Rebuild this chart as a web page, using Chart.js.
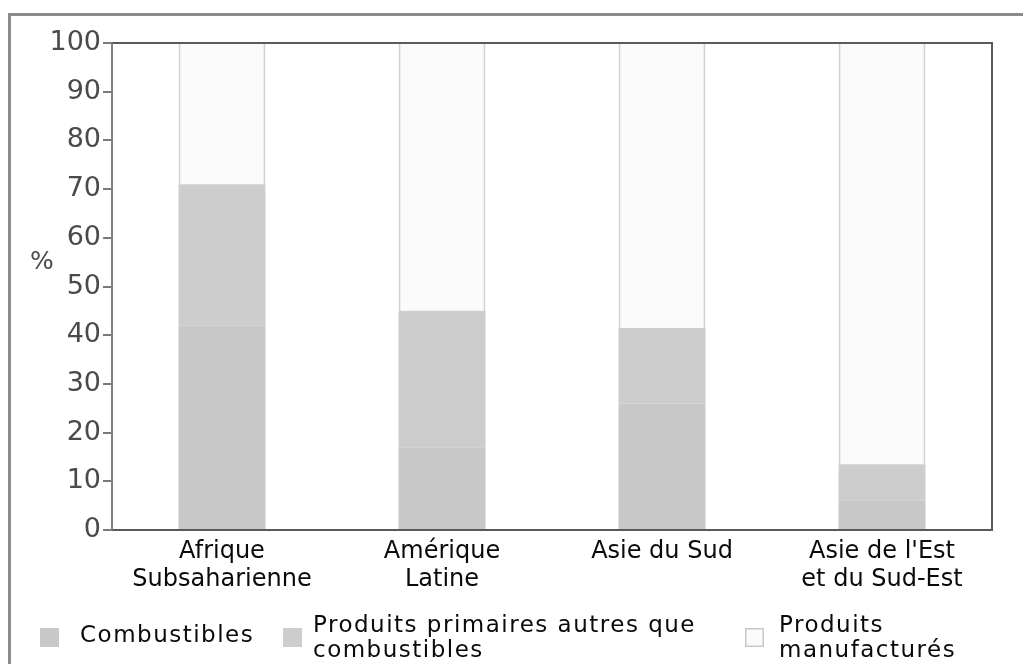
<!DOCTYPE html>
<html>
<head>
  <meta charset="utf-8">
  <title>Exportations par type de produit</title>
  <script src="https://cdn.jsdelivr.net/npm/chart.js@4.4.0/dist/chart.umd.min.js"></script>
  <style>
    html, body { margin: 0; padding: 0; background: #ffffff; }
    #wrap { position: relative; width: 1023px; height: 664px; }
  </style>
</head>
<body>
  <div id="wrap"><canvas id="myChart"></canvas></div>

  <script>
    // categories (multi-line labels) and values in %
    const categories = [['Afrique', 'Subsaharienne'], ['Amérique', 'Latine'], ['Asie du Sud'], ["Asie de l'Est", 'et du Sud-Est']];
    const combustibles = [42, 17, 26, 6];
    const primaires = [29, 28, 15.5, 7.5];
    const manufactures = [29, 55, 58.5, 86.5];
    const yTicks = [0, 10, 20, 30, 40, 50, 60, 70, 80, 90, 100];

    const seriesNames = ['Combustibles', 'Produits primaires autres que combustibles', 'Produits manufacturés'];
    const legendLines = [['Combustibles'], ['Produits primaires autres que', 'combustibles'], ['Produits', 'manufacturés']];

    const font = 'DejaVu Sans';

    // frame, "%" title and a legend with wrapped text
    const decor = {
      id: 'decor',
      afterDatasetsDraw(chart) {
        const ctx = chart.ctx;
        const a = chart.chartArea;
        ctx.save();
        // outer frame of the figure
        ctx.strokeStyle = '#8c8c8c';
        ctx.lineWidth = 3;
        ctx.beginPath();
        ctx.moveTo(9.5, 670);
        ctx.lineTo(9.5, 14.5);
        ctx.lineTo(1030, 14.5);
        ctx.stroke();
        // plot box
        ctx.lineWidth = 2;
        ctx.strokeStyle = '#5a5a5a';
        ctx.beginPath();
        ctx.moveTo(a.left, a.top);
        ctx.lineTo(a.right, a.top);
        ctx.lineTo(a.right, a.bottom);
        ctx.lineTo(a.left, a.bottom);
        ctx.stroke();
        ctx.strokeStyle = '#808080';
        ctx.beginPath();
        ctx.moveTo(a.left, a.top);
        ctx.lineTo(a.left, a.bottom);
        ctx.stroke();
        // y title
        ctx.fillStyle = '#4a4a4a';
        ctx.font = '25px "' + font + '"';
        ctx.textAlign = 'center';
        ctx.textBaseline = 'middle';
        ctx.fillText('%', 42, 262);
        ctx.restore();
      },
      afterDraw(chart) {
        const ctx = chart.ctx;
        const boxX = [40, 283, 745];
        const textX = [80, 313, 779];
        ctx.save();
        ctx.font = '23px "' + font + '"';
        ctx.letterSpacing = '1.5px';
        ctx.textAlign = 'left';
        ctx.textBaseline = 'middle';
        chart.data.datasets.forEach((ds, i) => {
          ctx.fillStyle = ds.backgroundColor;
          ctx.fillRect(boxX[i], 628, 19, 19);
          if (i === 2) {
            ctx.strokeStyle = '#c8c8c8';
            ctx.lineWidth = 1.5;
            ctx.strokeRect(boxX[i] + 0.75, 628.75, 17.5, 17.5);
          }
          ctx.fillStyle = '#0a0a0a';
          const lines = legendLines[i];
          if (lines.length === 1) {
            ctx.fillText(lines[0], textX[i], 636);
          } else {
            lines.forEach((t, k) => ctx.fillText(t, textX[i], 626 + k * 25));
          }
        });
        ctx.restore();
      }
    };

    const ctx = document.getElementById('myChart').getContext('2d');
    const myChart = new Chart(ctx, {
      type: 'bar',
      data: {
        labels: categories,
        datasets: [{
          label: seriesNames[0],
          data: combustibles,
          backgroundColor: '#c8c8c8',
          borderWidth: 0
        }, {
          label: seriesNames[1],
          data: primaires,
          backgroundColor: '#cdcdcd',
          borderWidth: 0
        }, {
          label: seriesNames[2],
          data: manufactures,
          backgroundColor: '#fbfbfb',
          borderColor: '#d0d0d0',
          borderWidth: { left: 2, right: 2, top: 0, bottom: 0 }
        }]
      },
      options: {
        responsive: true,
        maintainAspectRatio: false,
        animation: false,
        layout: { padding: { top: 43, right: 31, left: 0, bottom: 0 } },
        datasets: { bar: { categoryPercentage: 1, barPercentage: 0.395 } },
        plugins: { legend: { display: false }, tooltip: { enabled: false } },
        scales: {
          x: {
            stacked: true,
            grid: { display: false, drawTicks: false },
            border: { display: false },
            ticks: {
              color: '#0a0a0a',
              padding: 7,
              maxRotation: 0,
              font: { family: font, size: 24, lineHeight: 1.2 }
            },
            afterFit(scale) { scale.height = 134; }
          },
          y: {
            stacked: true,
            min: 0,
            max: 100,
            afterBuildTicks(scale) { scale.ticks = yTicks.map(v => ({ value: v })); },
            grid: { drawOnChartArea: false, drawTicks: true, tickLength: 9, color: '#7a7a7a', lineWidth: 2 },
            border: { display: false },
            ticks: {
              color: '#4a4a4a',
              padding: 2,
              font: { family: font, size: 27 }
            },
            afterFit(scale) { scale.width = 112; }
          }
        }
      },
      plugins: [decor]
    });
  </script>
</body>
</html>
